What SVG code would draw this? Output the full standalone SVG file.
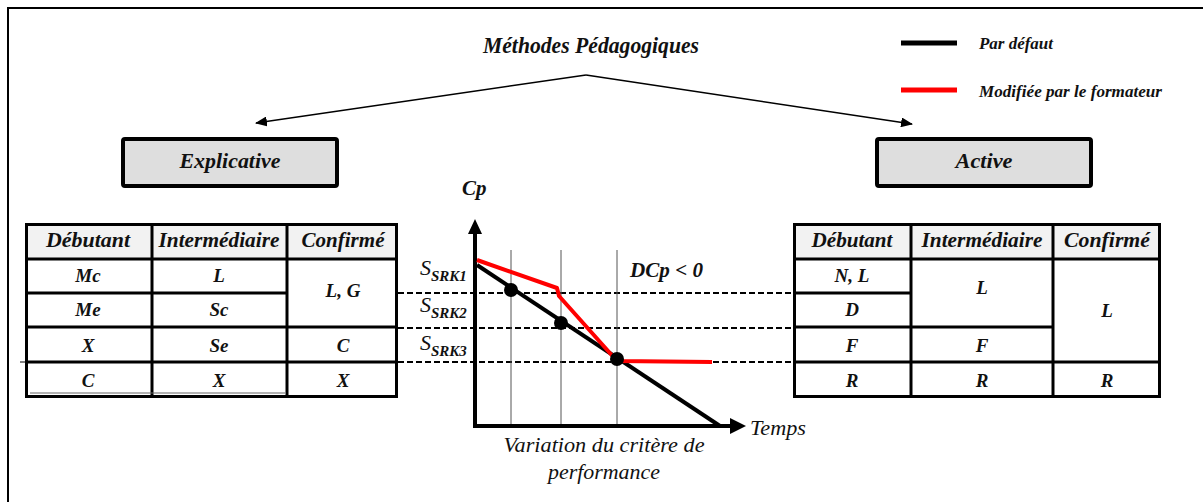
<svg xmlns="http://www.w3.org/2000/svg" width="1203" height="502" viewBox="0 0 1203 502">
<defs>
<marker id="ah" markerWidth="12" markerHeight="10" refX="11" refY="5" orient="auto" markerUnits="userSpaceOnUse">
<path d="M0,0 L12,5 L0,10 Z" fill="#000"/>
</marker>
<style>
.t{font-weight:bold;font-style:italic;fill:#111;}
.i{font-style:italic;fill:#111;}
.c{text-anchor:middle;}
.tb{fill:none;stroke:#000;stroke-width:3;}
.hd{fill:#f2f2f2;}
.dash{stroke:#000;stroke-width:2;stroke-dasharray:6,3;fill:none;}
.vl{stroke:#555;stroke-width:1;}
.box{fill:#dedede;stroke:#000;stroke-width:4;}
</style>
</defs>
<rect x="8" y="8" width="1205" height="510" fill="none" stroke="#000" stroke-width="2"/>

<g id="title">
<text class="t c" font-family="'Liberation Serif'" x="591" y="53" font-size="23" textLength="216" lengthAdjust="spacingAndGlyphs">Méthodes Pédagogiques</text>
</g>

<g id="legend">
<line x1="901" y1="43" x2="957" y2="43" stroke="#000" stroke-width="5"/>
<line x1="901" y1="90" x2="957" y2="90" stroke="#ff0000" stroke-width="5"/>
<text class="t" font-family="'Liberation Serif'" x="979" y="49" font-size="17" textLength="74" lengthAdjust="spacingAndGlyphs">Par défaut</text>
<text class="t" font-family="'Liberation Serif'" x="979" y="97" font-size="17" textLength="183" lengthAdjust="spacingAndGlyphs">Modifiée par le formateur</text>
</g>

<g id="connectors">
<line x1="586" y1="75" x2="256" y2="123" stroke="#000" stroke-width="1.5" marker-end="url(#ah)"/>
<line x1="586" y1="75" x2="912" y2="124" stroke="#000" stroke-width="1.5" marker-end="url(#ah)"/>
</g>

<g id="explicative">
<rect class="box" x="123" y="139" width="214" height="47" rx="2"/>
<text class="t c" font-family="'Liberation Serif'" x="230" y="168" font-size="21" textLength="101" lengthAdjust="spacingAndGlyphs">Explicative</text>
</g>

<g id="active">
<rect class="box" x="877" y="139" width="214" height="47" rx="2"/>
<text class="t c" font-family="'Liberation Serif'" x="984" y="168" font-size="21" textLength="57" lengthAdjust="spacingAndGlyphs">Active</text>
</g>

<g id="table-left">
<rect class="hd" x="26" y="224" width="371" height="35"/>
<rect class="tb" x="26.5" y="224.5" width="370" height="172"/>
<line class="tb" x1="152" y1="224" x2="152" y2="397"/>
<line class="tb" x1="287" y1="224" x2="287" y2="397"/>
<line class="tb" x1="25" y1="259" x2="398" y2="259"/>
<line class="tb" x1="25" y1="293" x2="287" y2="293"/>
<line class="tb" x1="25" y1="327" x2="398" y2="327"/>
<line class="tb" x1="25" y1="362" x2="398" y2="362"/>
<line x1="20" y1="362" x2="26" y2="362" stroke="#000" stroke-width="1"/>
<line x1="30" y1="393" x2="285" y2="393" stroke="#666" stroke-width="1"/>
<text class="t c" font-family="'Liberation Serif'" x="88" y="247" font-size="20" textLength="84" lengthAdjust="spacingAndGlyphs">Débutant</text>
<text class="t c" font-family="'Liberation Serif'" x="219" y="247" font-size="20" textLength="121" lengthAdjust="spacingAndGlyphs">Intermédiaire</text>
<text class="t c" font-family="'Liberation Serif'" x="343" y="247" font-size="20" textLength="83" lengthAdjust="spacingAndGlyphs">Confirmé</text>
<text class="t c" font-family="'Liberation Serif'" x="88" y="282" font-size="19">Mc</text>
<text class="t c" font-family="'Liberation Serif'" x="219" y="282" font-size="19">L</text>
<text class="t c" font-family="'Liberation Serif'" x="343" y="297" font-size="19">L, G</text>
<text class="t c" font-family="'Liberation Serif'" x="88" y="316" font-size="19">Me</text>
<text class="t c" font-family="'Liberation Serif'" x="219" y="316" font-size="19">Sc</text>
<text class="t c" font-family="'Liberation Serif'" x="88" y="352" font-size="19">X</text>
<text class="t c" font-family="'Liberation Serif'" x="219" y="352" font-size="19">Se</text>
<text class="t c" font-family="'Liberation Serif'" x="343" y="352" font-size="19">C</text>
<text class="t c" font-family="'Liberation Serif'" x="88" y="387" font-size="19">C</text>
<text class="t c" font-family="'Liberation Serif'" x="219" y="387" font-size="19">X</text>
<text class="t c" font-family="'Liberation Serif'" x="343" y="387" font-size="19">X</text>
</g>

<g id="table-right">
<rect class="hd" x="793" y="224" width="368" height="35"/>
<rect class="tb" x="794.5" y="224.5" width="365" height="172"/>
<line class="tb" x1="911" y1="224" x2="911" y2="397"/>
<line class="tb" x1="1053" y1="224" x2="1053" y2="397"/>
<line class="tb" x1="793" y1="259" x2="1161" y2="259"/>
<line class="tb" x1="793" y1="293" x2="911" y2="293"/>
<line class="tb" x1="793" y1="327" x2="1053" y2="327"/>
<line class="tb" x1="793" y1="362" x2="1161" y2="362"/>
<text class="t c" font-family="'Liberation Serif'" x="852" y="247" font-size="20" textLength="81" lengthAdjust="spacingAndGlyphs">Débutant</text>
<text class="t c" font-family="'Liberation Serif'" x="982" y="247" font-size="20" textLength="121" lengthAdjust="spacingAndGlyphs">Intermédiaire</text>
<text class="t c" font-family="'Liberation Serif'" x="1107" y="247" font-size="20" textLength="86" lengthAdjust="spacingAndGlyphs">Confirmé</text>
<text class="t c" font-family="'Liberation Serif'" x="852" y="282" font-size="19">N, L</text>
<text class="t c" font-family="'Liberation Serif'" x="982" y="294" font-size="19">L</text>
<text class="t c" font-family="'Liberation Serif'" x="1107" y="317" font-size="19">L</text>
<text class="t c" font-family="'Liberation Serif'" x="852" y="316" font-size="19">D</text>
<text class="t c" font-family="'Liberation Serif'" x="852" y="352" font-size="19">F</text>
<text class="t c" font-family="'Liberation Serif'" x="982" y="352" font-size="19">F</text>
<text class="t c" font-family="'Liberation Serif'" x="852" y="387" font-size="19">R</text>
<text class="t c" font-family="'Liberation Serif'" x="982" y="387" font-size="19">R</text>
<text class="t c" font-family="'Liberation Serif'" x="1107" y="387" font-size="19">R</text>
</g>

<g id="chart">
<line class="dash" x1="398" y1="293" x2="793" y2="293"/>
<line class="dash" x1="398" y1="328" x2="793" y2="328"/>
<line class="dash" x1="398" y1="362" x2="793" y2="362"/>
<line class="vl" x1="511" y1="250" x2="511" y2="426"/>
<line class="vl" x1="561" y1="250" x2="561" y2="426"/>
<line class="vl" x1="617" y1="250" x2="617" y2="426"/>
<line x1="475" y1="428" x2="475" y2="232" stroke="#000" stroke-width="4"/>
<path d="M468,234 L475,219 L482,234 Z" fill="#000"/>
<line x1="473" y1="426" x2="732" y2="426" stroke="#000" stroke-width="4"/>
<path d="M730,418 L746,426 L730,434 Z" fill="#000"/>
<line x1="477" y1="265" x2="720" y2="426" stroke="#000" stroke-width="4"/>
<path d="M477,260 L557,288 L559,296 L617,361 L712,362" fill="none" stroke="#ff0000" stroke-width="4" stroke-linejoin="round"/>
<circle cx="511" cy="290" r="7" fill="#000"/>
<circle cx="561" cy="323" r="7" fill="#000"/>
<circle cx="617" cy="359" r="7" fill="#000"/>
<text class="t" font-family="'Liberation Serif'" x="462" y="195" font-size="21">Cp</text>
<text class="i" font-family="'Liberation Serif'" x="420" y="275" font-size="22">S<tspan font-size="15" font-weight="bold" dy="6">SRK1</tspan></text>
<text class="i" font-family="'Liberation Serif'" x="420" y="312" font-size="22">S<tspan font-size="15" font-weight="bold" dy="6">SRK2</tspan></text>
<text class="i" font-family="'Liberation Serif'" x="420" y="350" font-size="22">S<tspan font-size="15" font-weight="bold" dy="6">SRK3</tspan></text>
<text class="t" font-family="'Liberation Serif'" x="630" y="277" font-size="21" textLength="73" lengthAdjust="spacingAndGlyphs">DCp &lt; 0</text>
<text class="i" font-family="'Liberation Serif'" x="750" y="435" font-size="21" textLength="56" lengthAdjust="spacingAndGlyphs">Temps</text>
<text class="i c" font-family="'Liberation Serif'" x="604" y="452" font-size="21" textLength="201" lengthAdjust="spacingAndGlyphs">Variation du critère de</text>
<text class="i c" font-family="'Liberation Serif'" x="604" y="479" font-size="21" textLength="112" lengthAdjust="spacingAndGlyphs">performance</text>
</g>
</svg>
